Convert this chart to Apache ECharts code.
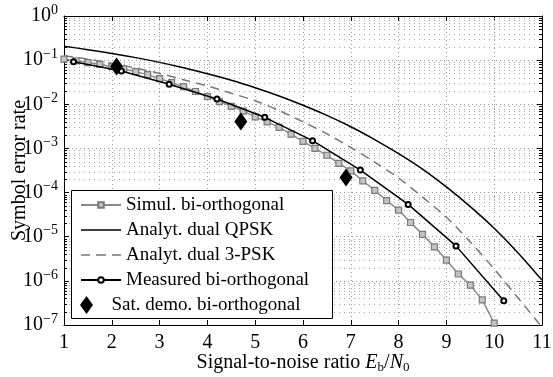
<!DOCTYPE html>
<html>
<head>
<meta charset="utf-8">
<script src="https://cdn.jsdelivr.net/npm/echarts@6/dist/echarts.min.js"></script>
<style>
  html, body { margin: 0; padding: 0; background: #fff; }
  #chart { width: 553px; height: 377px; }
</style>
</head>
<body>
<div id="chart"></div>
<script>
// simulated bi-orthogonal (gray squares)
var simulX = [1, 1.25, 1.5, 1.75, 2, 2.25, 2.5, 2.75, 3, 3.25, 3.5, 3.75, 4, 4.25, 4.5, 4.75, 5, 5.25, 5.5, 5.75,
  6, 6.25, 6.5, 6.75, 7, 7.25, 7.5, 7.75, 8, 8.25, 8.5, 8.75, 9, 9.25, 9.5, 9.75, 10];
var simulY = [0.105, 0.097, 0.088, 0.080, 0.071, 0.063, 0.055, 0.047, 0.038, 0.031, 0.025, 0.0195, 0.015, 0.0115,
  0.0090, 0.0070, 0.0052, 0.0040, 0.0030, 0.0021, 0.00145, 0.0010, 0.00070, 0.00046, 0.00031, 0.000185,
  0.000112, 6.6e-5, 4.0e-5, 2.1e-5, 1.13e-5, 5.9e-6, 2.96e-6, 1.43e-6, 8.0e-7, 3.7e-7, 1.1e-7];

// analytic curves, read every 0.5 dB
var analytX = [1, 1.5, 2, 2.5, 3, 3.5, 4, 4.5, 5, 5.5, 6, 6.5, 7, 7.5, 8, 8.5, 9, 9.5, 10, 10.5, 11];
var qpskY = [0.207, 0.173, 0.142, 0.114, 0.089, 0.067, 0.049, 0.035, 0.0237, 0.0154, 0.0095, 0.0056, 0.0031,
  0.00159, 7.6e-4, 3.4e-4, 1.34e-4, 4.8e-5, 1.55e-5, 4.3e-6, 1.04e-6];
var psk3Y = [0.126, 0.105, 0.085, 0.066, 0.050, 0.036, 0.026, 0.0178, 0.012, 0.0072, 0.0040, 0.00214, 0.00105,
  4.9e-4, 2.14e-4, 7.9e-5, 2.75e-5, 7.6e-6, 1.86e-6, 4.1e-7, 8.9e-8];

// measured bi-orthogonal (black circles)
var measX = [1.2, 2.2, 3.2, 4.2, 5.2, 6.2, 7.2, 8.2, 9.2, 10.2];
var measY = [0.092, 0.0568, 0.0284, 0.0132, 0.00507, 0.0015, 3.24e-4, 5.4e-5, 6.2e-6, 3.55e-7];

// satellite demo (diamonds)
var satX = [2.1, 4.7, 6.9];
var satY = [0.072, 0.0041, 2.2e-4];

var names = ['Simul. bi-orthogonal', 'Analyt. dual QPSK', 'Analyt. dual 3-PSK', 'Measured bi-orthogonal', 'Sat. demo. bi-orthogonal'];

var decades = [-7, -6, -5, -4, -3, -2, -1];
var minorMult = [2, 3, 4, 5, 6, 7, 8, 9];

function pairs(xs, ys) {
  var out = [];
  for (var i = 0; i < xs.length; i++) out.push([xs[i], ys[i]]);
  return out;
}

var minorData = [];
decades.forEach(function(d) {
  minorMult.forEach(function(m) {
    minorData.push([1, m * Math.pow(10, d)]);
  });
});

var font = 'Liberation Serif';
var legendText = { fontFamily: font, fontSize: 19, color: '#000', lineHeight: 20 };

var myChart = echarts.init(document.getElementById('chart'));
var option = {
  animation: false,
  backgroundColor: '#fff',
  textStyle: { fontFamily: font, color: '#000' },
  grid: { left: 64, right: 11, top: 16, bottom: 52, outerBoundsMode: 'none', containLabel: false },
  xAxis: [{
    type: 'value', min: 1, max: 11, interval: 1,
    name: '{t|Signal-to-noise ratio }{i|E}{s|b}{t|/}{i|N}{s|0}',
    nameLocation: 'middle', nameGap: 26, nameMoveOverlap: false,
    nameTextStyle: {
      rich: {
        t: { fontFamily: font, fontSize: 20, color: '#000' },
        i: { fontFamily: font, fontSize: 20, fontStyle: 'italic', color: '#000' },
        s: { fontFamily: font, fontSize: 13, color: '#000', padding: [10, 0, 0, 0] }
      }
    },
    axisLine: { lineStyle: { color: '#000', width: 1 } },
    axisTick: { inside: true, length: 5, lineStyle: { color: '#000' } },
    axisLabel: { fontFamily: font, fontSize: 20, color: '#000', margin: 8 },
    splitLine: { show: true, lineStyle: { color: '#999', type: [1, 3] } }
  }, {
    type: 'value', min: 1, max: 11, interval: 1, position: 'top',
    axisLine: { lineStyle: { color: '#000', width: 1 } },
    axisTick: { inside: true, length: 5, lineStyle: { color: '#000' } },
    axisLabel: { show: false },
    splitLine: { show: false }
  }],
  yAxis: [{
    type: 'log', logBase: 10, min: 1e-7, max: 1, splitNumber: 7,
    name: 'Symbol error rate', nameLocation: 'middle', nameGap: 34, nameMoveOverlap: false,
    nameTextStyle: { fontFamily: font, fontSize: 20, color: '#000' },
    axisLine: { show: true, lineStyle: { color: '#000', width: 1 } },
    axisTick: { inside: true, length: 5, lineStyle: { color: '#000' } },
    axisLabel: {
      margin: 6,
      formatter: function(v) {
        var e = Math.round(Math.log(v) / Math.LN10);
        return '{b|10}{e|' + (e < 0 ? '\u2212' + (-e) : e) + '}';
      },
      rich: {
        b: { fontFamily: font, fontSize: 20, color: '#000' },
        e: { fontFamily: font, fontSize: 14, color: '#000', padding: [0, 0, 12, 0] }
      }
    },
    splitLine: { show: true, lineStyle: { color: '#999', type: [1, 3] } }
  }, {
    type: 'log', logBase: 10, min: 1e-7, max: 1, splitNumber: 7, position: 'right',
    axisLine: { show: true, lineStyle: { color: '#000', width: 1 } },
    axisTick: { inside: true, length: 5, lineStyle: { color: '#000' } },
    axisLabel: { show: false },
    splitLine: { show: false }
  }],
  legend: [{
    data: [
      names[0],
      { name: names[1], icon: 'path://M0,0h40v1.5h-40z' },
      { name: names[2], icon: 'path://M0,0h9v1.5h-9zM15,0h10v1.5h-10zM31,0h9v1.5h-9z' },
      names[3]
    ],
    z: 10, orient: 'vertical', left: 75, top: 190,
    itemWidth: 40, itemHeight: 7, itemGap: 5,
    textStyle: legendText
  }, {
    data: [{ name: names[4], icon: 'path://M0,-9L6.5,0L0,9L-6.5,0Z' }],
    z: 10, orient: 'vertical', left: 75, top: 290,
    itemWidth: 40, itemHeight: 18,
    textStyle: legendText
  }],
  graphic: [{
    type: 'rect', left: 71, top: 190, z: 5,
    shape: { width: 261, height: 128 },
    style: { fill: '#fff', stroke: '#000', lineWidth: 1 }
  }],
  series: [{
    type: 'custom', name: 'minorgrid', silent: true, z: 1,
    data: minorData,
    renderItem: function(params, api) {
      var v = api.value(1);
      var a = api.coord([1, v]);
      var b = api.coord([11, v]);
      var y = Math.round(a[1]) + 0.5;
      return {
        type: 'group',
        children: [
          { type: 'line', shape: { x1: a[0], y1: y, x2: b[0], y2: y }, style: { stroke: '#aaa', lineWidth: 1, lineDash: [1, 4] } },
          { type: 'line', shape: { x1: a[0], y1: y, x2: a[0] + 3, y2: y }, style: { stroke: '#000', lineWidth: 1 } },
          { type: 'line', shape: { x1: b[0] - 3, y1: y, x2: b[0], y2: y }, style: { stroke: '#000', lineWidth: 1 } }
        ]
      };
    }
  }, {
    name: names[0], type: 'line', z: 3,
    data: pairs(simulX, simulY),
    symbol: 'rect', symbolSize: 6,
    lineStyle: { color: '#8a8a8a', width: 1.5 },
    itemStyle: { color: '#c4c4c4', borderColor: '#7a7a7a', borderWidth: 1.2 }
  }, {
    name: names[1], type: 'line', z: 3,
    data: pairs(analytX, qpskY),
    symbol: 'none', smooth: 0.3,
    lineStyle: { color: '#000', width: 1.5 },
    itemStyle: { color: '#000' }
  }, {
    name: names[2], type: 'line', z: 3,
    data: pairs(analytX, psk3Y),
    symbol: 'none', smooth: 0.3,
    lineStyle: { color: '#777', width: 1.5, type: [9, 6] },
    itemStyle: { color: '#777' }
  }, {
    name: names[3], type: 'line', z: 4,
    data: pairs(measX, measY),
    symbol: 'emptyCircle', symbolSize: 5,
    lineStyle: { color: '#000', width: 1.5 },
    itemStyle: { color: '#000', borderWidth: 1.5 }
  }, {
    name: names[4], type: 'scatter', z: 4,
    data: pairs(satX, satY),
    symbol: 'diamond', symbolSize: [13, 18],
    itemStyle: { color: '#000', opacity: 1 }
  }]
};
myChart.setOption(option);
</script>
</body>
</html>
